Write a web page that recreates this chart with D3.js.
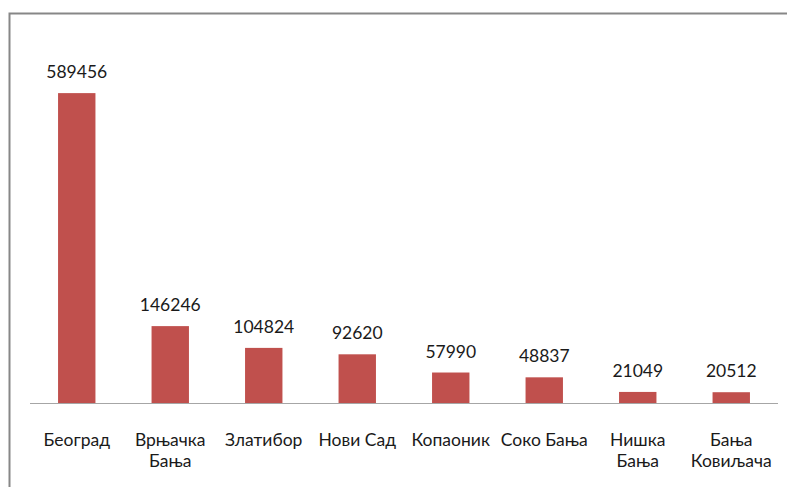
<!DOCTYPE html>
<html>
<head>
<meta charset="utf-8">
<script src="https://cdn.jsdelivr.net/npm/d3@7"></script>
<style>
  body { margin: 0; background: #fff; }
</style>
</head>
<body>
<div id="chart"></div>
<script>
// tourist overnight stays by destination
var places = ["Београд", "Врњачка Бања", "Златибор", "Нови Сад", "Копаоник", "Соко Бања", "Нишка Бања", "Бања Ковиљача"];
var labelLines = [["Београд"], ["Врњачка", "Бања"], ["Златибор"], ["Нови Сад"], ["Копаоник"], ["Соко Бања"], ["Нишка", "Бања"], ["Бања", "Ковиљача"]];
var visits = [589456, 146246, 104824, 92620, 57990, 48837, 21049, 20512];

const width = 787, height = 487;
const m = { left: 30, right: 9, top: 35, baseline: 403 };

var svg = d3.select("#chart")
  .append("svg")
  .attr("width", width)
  .attr("height", height);

// outer frame (cut off on right and bottom)
svg.append("rect")
  .attr("x", 9.5)
  .attr("y", 13.5)
  .attr("width", 800)
  .attr("height", 500)
  .attr("fill", "none")
  .attr("stroke", "#878787")
  .attr("stroke-width", 2);

var x = d3.scaleBand()
  .domain(places)
  .range([m.left, width - m.right])
  .paddingInner(0.6)
  .paddingOuter(0.3);

var y = d3.scaleLinear()
  .domain([0, 700000])
  .range([m.baseline, m.top]);

var data = places.map((p, i) => ({ place: p, value: visits[i], lines: labelLines[i] }));

svg.selectAll(".bar")
  .data(data)
  .enter().append("rect")
  .attr("class", "bar")
  .attr("x", d => x(d.place))
  .attr("y", d => y(d.value))
  .attr("width", x.bandwidth())
  .attr("height", d => y(0) - y(d.value))
  .attr("fill", "#C0504D");

// category axis line
svg.append("line")
  .attr("x1", m.left)
  .attr("x2", width - m.right)
  .attr("y1", y(0) + 0.5)
  .attr("y2", y(0) + 0.5)
  .attr("stroke", "#A6A6A6")
  .attr("stroke-width", 1);

// value labels
svg.selectAll(".val")
  .data(data)
  .enter().append("text")
  .attr("class", "val")
  .attr("x", d => x(d.place) + x.bandwidth() / 2)
  .attr("y", d => y(d.value) - 15)
  .attr("text-anchor", "middle")
  .style("font-family", "Lato, sans-serif")
  .style("font-size", "17.5px")
  .style("fill", "#1a1a1a")
  .text(d => d.value);

// category labels
var cats = svg.selectAll(".cat")
  .data(data)
  .enter().append("text")
  .attr("class", "cat")
  .attr("text-anchor", "middle")
  .style("font-family", "Lato, sans-serif")
  .style("font-size", "17.5px")
  .style("fill", "#1a1a1a");

cats.selectAll("tspan")
  .data(d => d.lines.map(l => ({ l, cx: x(d.place) + x.bandwidth() / 2 })))
  .enter().append("tspan")
  .attr("x", d => d.cx)
  .attr("y", (d, i) => 446 + i * 21)
  .text(d => d.l);
</script>
</body>
</html>
